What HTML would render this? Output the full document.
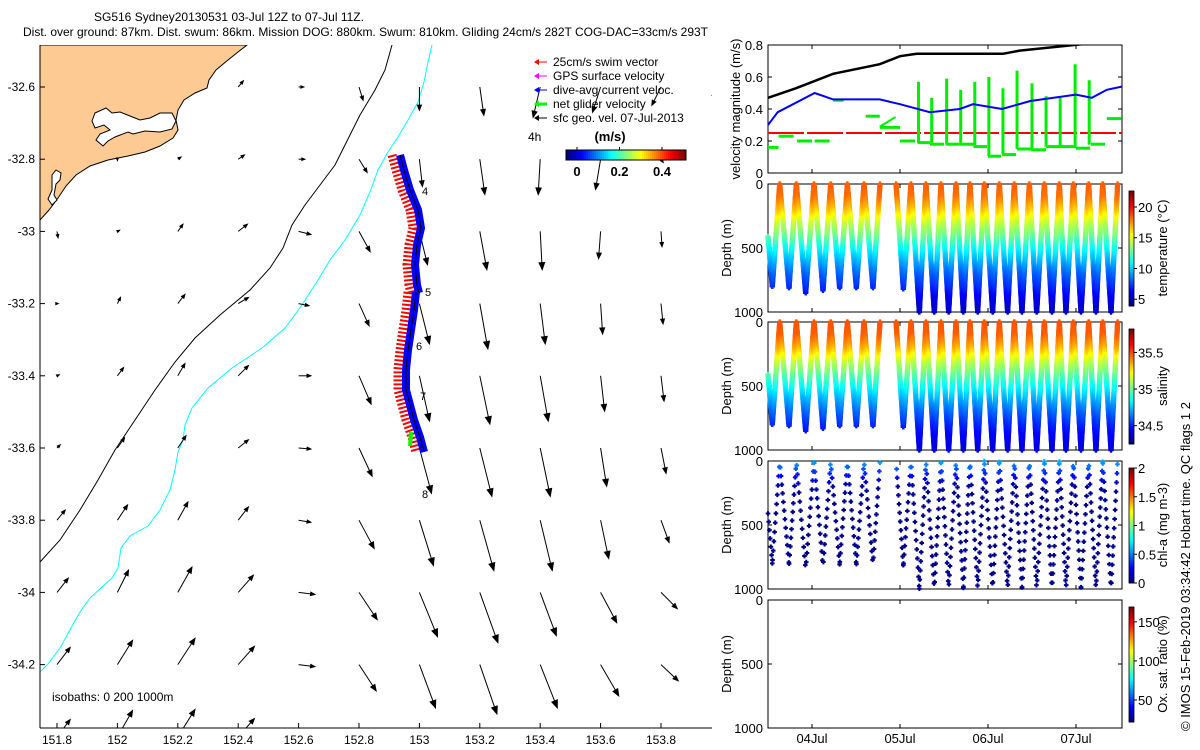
<!DOCTYPE html>
<html><head><meta charset="utf-8"><style>
html,body{margin:0;padding:0;background:#fff;}
svg{display:block;font-family:"Liberation Sans",Arial,sans-serif;}
</style></head><body>
<svg id="fig" width="1200" height="750" viewBox="0 0 1200 750" xmlns="http://www.w3.org/2000/svg">
<defs>
<clipPath id="mapclip"><rect x="40" y="45" width="672" height="683"/></clipPath>
<clipPath id="velclip"><rect x="768" y="45" width="354" height="128"/></clipPath>
</defs>
<g font-size="12" fill="#000">
<text x="94" y="21">SG516 Sydney20130531 03-Jul 12Z to 07-Jul 11Z.</text>
<text x="23" y="36">Dist. over ground: 87km. Dist. swum: 86km. Mission DOG: 880km. Swum: 810km. Gliding 24cm/s 282T COG-DAC=33cm/s 293T</text>
</g>
<g id="map"></g>
<g id="right"></g>
<text font-size="13" transform="translate(1190,731) rotate(-90)">© IMOS 15-Feb-2019 03:34:42 Hobart time. QC flags 1  2</text>
</svg>
<script>
// ---------- MAP DATA ----------
const lonTicks=[151.8,152,152.2,152.4,152.6,152.8,153,153.2,153.4,153.6,153.8];
const latTicks=[-32.6,-32.8,-33,-33.2,-33.4,-33.6,-33.8,-34,-34.2];
const gridLons=[151.8,152,152.2,152.4,152.6,152.8,153,153.2,153.4,153.6,153.8,154];
const gridLats=[-32.6,-32.8,-33,-33.2,-33.4,-33.6,-33.8,-34,-34.2,-34.4];
// surface geostrophic velocity (cm/s), east and north components; null = land
const geoU=[
[null,null,null,5,5,4,0,4,-7,-8,-9,-9],
[null,0,3,6,6,8,3,5,-2,-5,2,-6],
[1,2,5,9,12,11,8,7,2,-2,1,-4],
[1,3,7,10,10,10,10,8,5,2,2,-2],
[2,6,7,10,12,12,10,10,8,4,3,0],
[3,7,8,10,12,13,12,12,10,6,5,2],
[8,10,10,10,12,15,14,14,12,8,8,6],
[11,11,14,15,16,18,18,18,16,16,16,14],
[13,15,17,16,16,17,16,17,17,18,17,15],
[13,15,17,16,16,17,16,17,17,18,17,15]];
const geoV=[
[null,null,null,6,0,-13,-23,-28,-30,-25,-18,-8],
[null,-1,2,4,0,-13,-27,-35,-35,-30,-3,-5],
[-6,1,7,7,-3,-20,-33,-38,-38,-27,-15,-8],
[0,6,9,6,-2,-22,-40,-45,-40,-30,-20,-10],
[1,8,12,10,0,-28,-45,-48,-45,-35,-25,-12],
[3,10,12,8,-1,-28,-45,-48,-48,-38,-25,-12],
[10,15,18,13,-2,-28,-45,-50,-50,-38,-22,-12],
[14,22,25,17,-2,-27,-44,-50,-43,-30,-16,-10],
[17,24,26,18,-2,-26,-43,-49,-43,-31,-16,-10],
[17,26,27,18,-2,-26,-43,-49,-43,-31,-16,-10]];
const cbTicks=[0,0.2,0.4];

const NS="http://www.w3.org/2000/svg";
function el(tag,attrs,parent){const e=document.createElementNS(NS,tag);for(const k in attrs)e.setAttribute(k,attrs[k]);if(parent)parent.appendChild(e);return e;}
function jet(t){t=Math.max(0,Math.min(1,t));const c=v=>Math.round(255*Math.max(0,Math.min(1,v)));
return `rgb(${c(1.5-Math.abs(4*t-3))},${c(1.5-Math.abs(4*t-2))},${c(1.5-Math.abs(4*t-1))})`;}

const mx=lon=>57+(lon-151.8)*302;
const my=lat=>87+(-32.6-lat)*361;
const map=document.getElementById('map');
const mc=el('g',{'clip-path':'url(#mapclip)'},map);



const land=el('path',{d:'M40,45 L247,45 L238,52 L228,60 L216,70 L209,80 L207,88 L195,93 L184,100 L178,110 L176,120 L178,130 L173,138 L160,146 L145,152 L128,156 L108,160 L90,166 L76,175 L66,186 L58,198 L49,210 L40,220 Z',fill:'#fdca93',stroke:'#000','stroke-width':1},mc);


const est=el('path',{d:'M95,113 L106,108 L112,113 L120,112 L130,116 L140,120 L150,118 L160,113 L172,113 L176,121 L172,129 L160,132 L145,131 L133,134 L128,132 L115,137 L108,141 L103,146 L96,140 L100,134 L110,130 L104,125 L95,128 L92,121 Z',fill:'#fff',stroke:'#000','stroke-width':1},mc);


const lake=el('path',{d:'M52,175 L56,170 L61,173 L60,180 L56,184 L54,195 L57,200 L52,205 L48,199 L52,190 Z',fill:'#fff',stroke:'#000','stroke-width':1},mc);



const iso200=el('polyline',{points:'392,45 385,70 375,90 360,115 345,145 335,165 320,185 305,205 292,225 283,248 270,268 250,290 220,315 195,338 175,362 155,390 135,420 115,450 98,480 80,510 60,540 40,562',fill:'none',stroke:'#000','stroke-width':1},mc);


const iso1000=el('polyline',{points:'432,45 428,62 424,82 418,102 408,120 398,137 388,152 378,170 370,192 360,215 345,240 330,260 318,280 302,305 285,328 262,348 232,368 208,388 192,408 185,425 183,440 178,452 175,470 170,490 160,510 148,526 130,536 121,548 118,568 112,578 90,598 80,612 71,628 60,648 48,664 40,672',fill:'none',stroke:'#00ffff','stroke-width':1},mc);



gridLats.forEach((lat,i)=>{gridLons.forEach((lon,j)=>{
 const u=geoU[i][j],v=geoV[i][j]; if(u===null)return;
 const x0=mx(lon),y0=my(lat),x1=x0+u,y1=y0-v;
 const L=Math.hypot(u,v)||1,ux=u/L,uy=-v/L,h=Math.min(7,2+L*0.12);
 const g=el('g',{},mc);
 
 
 el('line',{x1:x0,y1:y0,x2:x1,y2:y1,stroke:'#000','stroke-width':1},g);
 el('path',{d:`M${x1},${y1} L${x1-ux*h-uy*h*0.4},${y1-uy*h+ux*h*0.4} L${x1-ux*h+uy*h*0.4},${y1-uy*h-ux*h*0.4} Z`,fill:'#000',stroke:'#000','stroke-width':1.2},g);
});});

const trk1='400,155 404,170 410,190 418,210 421,228 417,245 415,265 417,285 419,293';
const trk2='416,292 414,310 411,330 408,350 406,370 406,390 410,405 414,420 420,437 424,452';
[trk1,trk2].forEach((p)=>{
 const sh=p.split(' ').map(s=>{const a=s.split(',');return (a[0]-8)+','+a[1];}).join(' ');
 const r=el('polyline',{points:sh,fill:'none',stroke:'#ff0000','stroke-width':9,'stroke-dasharray':'2 2'},mc);
 
 
 const b=el('polyline',{points:p,fill:'none',stroke:'#0000ff','stroke-width':8},mc);
 
 
 const t=el('polyline',{points:p,fill:'none',stroke:'#000','stroke-width':1},mc);
 
 
});
const gv=el('line',{x1:411,y1:432,x2:410,y2:446,stroke:'#00ff00','stroke-width':4},mc);


[['4',422,195],['5',425,296],['6',416,350],['7',420,400],['8',422,498]].forEach(d=>{
 const t=el('text',{x:d[1],y:d[2],'font-size':11},mc);t.textContent=d[0];
 
 
});

const ax=el('g',{stroke:'#000','stroke-width':1},map);


el('line',{x1:40,y1:45,x2:40,y2:728},ax);
el('line',{x1:40,y1:728,x2:712,y2:728},ax);
lonTicks.forEach(l=>{const x=mx(l);el('line',{x1:x,y1:728,x2:x,y2:723},ax);
 const t=el('text',{x:x,y:744,'font-size':12,'text-anchor':'middle',stroke:'none'},map);t.textContent=String(l);
 
 });
latTicks.forEach(l=>{const y=my(l);el('line',{x1:40,y1:y,x2:45,y2:y},ax);
 const t=el('text',{x:35,y:y+4,'font-size':12,'text-anchor':'end'},map);t.textContent=String(l);
 
 });
const isot=el('text',{x:52,y:701,'font-size':12},map);isot.textContent='isobaths: 0   200  1000m';


isot.setAttribute('xml:space','preserve');

const leg=el('g',{},map);


[['25cm/s swim vector','#ff0000'],['GPS surface velocity','#ff00ff'],['dive-avg current veloc.','#0000ff'],['net glider velocity','#00ff00'],['sfc geo. vel. 07-Jul-2013','#000']].forEach((d,i)=>{
 const y=66+i*14;
 const e=el('g',{},leg);
 
 
 el('line',{x1:535,y1:y-4,x2:547,y2:y-4,stroke:d[1],'stroke-width':i==3?3:1},e);
 el('path',{d:`M534,${y-4} L539,${y-7} L539,${y-1} Z`,fill:d[1]},e);
 const t=el('text',{x:553,y:y,'font-size':12},e);t.textContent=d[0];
});
const t4=el('text',{x:528,y:141,'font-size':12},leg);t4.textContent='4h';


const mu=el('text',{x:610,y:141,'font-size':13,'font-weight':'bold','text-anchor':'middle'},leg);mu.textContent='(m/s)';


const cbx=v=>577+v/0.2*42.5;
const cbg=el('g',{},leg);


for(let i=0;i<60;i++){el('rect',{x:566+i*2,y:150,width:2.2,height:10,fill:jet(i/59)},cbg);}
el('rect',{x:566,y:150,width:120,height:10,fill:'none',stroke:'#000'},cbg);
cbTicks.forEach(v=>{el('line',{x1:cbx(v),y1:150,x2:cbx(v),y2:147,stroke:'#000'},cbg);
 const t=el('text',{x:cbx(v),y:176,'font-size':13,'font-weight':'bold','text-anchor':'middle'},cbg);t.textContent=String(v);});
</script>
<script>
// ---------- TIME SERIES DATA ----------
const dateTicks=[4,5,6,7];
const dateLabels=['04Jul','05Jul','06Jul','07Jul'];
const velTicks=[0,0.2,0.4,0.6,0.8];
const dogT=[3.5,3.82,4.24,4.77,5.0,5.19,6.17,6.36,6.98,7.5];
const dogV=[0.47,0.53,0.62,0.68,0.73,0.745,0.745,0.765,0.8,0.83];
const dacT=[3.5,3.61,4.03,4.24,4.77,5.0,5.34,5.68,5.83,6.16,6.48,7.0,7.18,7.35,7.52];
const dacV=[0.30,0.38,0.50,0.46,0.46,0.43,0.38,0.40,0.43,0.40,0.45,0.49,0.47,0.52,0.54];
const swimV=0.25;
const netT0=[3.5,3.62,3.83,4.03,4.24,4.61,4.77,5.0,5.2,5.34,5.52,5.68,5.84,6.0,6.16,6.33,6.49,6.66,6.83,7.0,7.17,7.35];
const netT1=[3.62,3.79,4.0,4.2,4.36,4.77,5.0,5.17,5.34,5.5,5.68,5.84,5.99,6.15,6.32,6.5,6.66,6.83,6.98,7.16,7.33,7.52];
const netV=[0.16,0.23,0.20,0.20,0.455,0.355,0.285,0.20,0.19,0.18,0.18,0.18,0.165,0.105,0.115,0.15,0.145,0.165,0.165,0.155,0.18,0.34];
const spikeT=[5.21,5.36,5.53,5.69,5.85,6.01,6.17,6.33,6.5,6.66,6.82,6.99,7.15];
const spikeV=[0.57,0.47,0.59,0.52,0.57,0.60,0.53,0.64,0.56,0.48,0.47,0.68,0.58];
const diveT=[3.5,3.549,3.633,3.739,3.822,3.928,4.023,4.125,4.212,4.314,4.402,4.504,4.591,4.693,4.773,null,4.955,5.038,5.125,5.22,5.295,5.39,5.466,5.553,5.636,5.72,5.795,5.883,5.958,6.053,6.129,6.223,6.299,6.386,6.47,6.553,6.64,6.727,6.811,6.886,6.97,7.057,7.144,7.227,7.303,7.398,7.473];
const diveZ=[410,800,0,810,0,850,0,830,0,810,0,810,0,810,0,null,0,820,0,1000,0,1000,0,1000,0,1000,0,1000,0,1000,0,1000,0,1000,0,1000,0,1000,0,1000,0,1000,0,1000,0,1000,0];
const profZ=[0,100,200,300,400,500,600,700,800,900,1000];
const profTemp=[18.6,18.2,16.6,14.5,13,11,9.5,8,7,5.8,5];
const profSal=[35.5,35.48,35.35,35.15,35.0,34.85,34.72,34.6,34.5,34.43,34.38];
const profChl=[0.6,0.3,0.05,0.03,0.02,0.02,0.02,0.02,0.02,0.02,0.02];

const NS2="http://www.w3.org/2000/svg";
function E(tag,attrs,parent){const e=document.createElementNS(NS2,tag);for(const k in attrs)e.setAttribute(k,attrs[k]);if(parent)parent.appendChild(e);return e;}
function jet2(t){t=Math.max(0,Math.min(1,t));const c=v=>Math.round(255*Math.max(0,Math.min(1,v)));
return `rgb(${c(1.5-Math.abs(4*t-3))},${c(1.5-Math.abs(4*t-2))},${c(1.5-Math.abs(4*t-1))})`;}
function interp(xs,ys,x){for(let i=0;i<xs.length-1;i++){if(x<=xs[i+1]){const f=(x-xs[i])/(xs[i+1]-xs[i]);return ys[i]+f*(ys[i+1]-ys[i]);}}return ys[ys.length-1];}
const R=document.getElementById('right');
const X0=768,X1=1122;
const xt=t=>X0+(t-3.5)*88;
const vy=v=>173-v/0.8*128;
function box(top,name){const b=E('rect',{x:X0,y:top,width:X1-X0,height:128,fill:'none',stroke:'#000'},R);
 
 
 dateTicks.forEach(d=>{E('line',{x1:xt(d),y1:top+128,x2:xt(d),y2:top+124,stroke:'#000'},R);E('line',{x1:xt(d),y1:top,x2:xt(d),y2:top+4,stroke:'#000'},R);});}
function ylab(txt,x,y,name){const t=E('text',{'font-size':13,'text-anchor':'middle',transform:`translate(${x},${y}) rotate(-90)`},R);t.textContent=txt;
 
 }
function ytick(v,y,name){E('line',{x1:X0,y1:y,x2:X0+4,y2:y,stroke:'#000'},R);E('line',{x1:X1,y1:y,x2:X1-4,y2:y,stroke:'#000'},R);
 const t=E('text',{x:763,y:y+5,'font-size':13,'text-anchor':'end'},R);t.textContent=String(v);
 
 }

box(45,'velocity-axes');
velTicks.forEach(v=>ytick(v,vy(v),'velocity-tick-label'));
ylab('velocity magnitude (m/s)',740,109,'velocity-y-title');
const vc=E('g',{'clip-path':'url(#velclip)'},R);
const sw=E('line',{x1:X0,y1:vy(swimV),x2:X1,y2:vy(swimV),stroke:'#ff0000','stroke-width':2,'stroke-dasharray':'36 3'},vc);


for(let i=0;i<netV.length;i++){
 const s=E('line',{x1:xt(netT0[i]),y1:vy(netV[i]),x2:xt(netT1[i]),y2:vy(netV[i]),stroke:'#00ee00','stroke-width':3},vc);
 
 }
const ramp=E('line',{x1:xt(4.77),y1:vy(0.29),x2:xt(4.95),y2:vy(0.35),stroke:'#00ee00','stroke-width':2},vc);


spikeT.forEach((t,i)=>{const base=interp(netT0,netV,t);
 const s=E('line',{x1:xt(t),y1:vy(Math.min(base,0.2)),x2:xt(t),y2:vy(spikeV[i]),stroke:'#00ee00','stroke-width':3},vc);
 
 });
const dl=E('polyline',{points:dogT.map((t,i)=>xt(t)+','+vy(dogV[i])).join(' '),fill:'none',stroke:'#000','stroke-width':2.5},vc);


const bl=E('polyline',{points:dacT.map((t,i)=>xt(t)+','+vy(dacV[i])).join(' '),fill:'none',stroke:'#0000ff','stroke-width':2},vc);



const panels=[
 {top:184,name:'temperature',prof:profTemp,vmin:3.9,vmax:22.6,ticks:[5,10,15,20],lab:'temperature (°C)',step:8,sz:2.6,sw:2.2,jit:0},
 {top:322,name:'salinity',prof:profSal,vmin:34.25,vmax:35.82,ticks:[34.5,35,35.5],lab:'salinity',step:8,sz:2.6,sw:2.2,jit:0},
 {top:461,name:'chlorophyll',prof:profChl,vmin:0,vmax:2,ticks:[0,0.5,1,1.5,2],lab:'chl-a (mg m-3)',step:70,sz:2.3,sw:2,jit:1},
 {top:600,name:'oxygen',prof:null,vmin:21.8,vmax:169,ticks:[50,100,150],lab:'Ox. sat. ratio (%)',step:0}];
panels.forEach(p=>{
 box(p.top,p.name+'-axes');
 [0,500,1000].forEach(z=>ytick(z,p.top+z/1000*128,'depth-tick-label'));
 ylab('Depth (m)',731,p.top+64,'depth-y-title');
 const zy=z=>p.top+z/1000*128;
 if(p.prof){
  const g=E('g',{},R);
  
  
  for(let i=0;i<diveT.length-1;i++){
   if(diveT[i]===null||diveT[i+1]===null)continue;
   const t0=diveT[i],t1=diveT[i+1],z0=diveZ[i],z1=diveZ[i+1];
   const n=Math.max(1,Math.round(Math.abs(z1-z0)/p.step));
   const off=p.jit?((i*0.37)%1):0;
   for(let k=0;k<=n;k++){let f=(k+off)/n; if(f>1)continue; const t=t0+f*(t1-t0),z=z0+f*(z1-z0);
    const val=interp(profZ,p.prof,z);
    const c=jet2((val-p.vmin)/(p.vmax-p.vmin));
    const x=xt(t),y=zy(z),s=p.sz;
    E('path',{d:`M${x-s},${y}h${2*s}M${x},${y-s}v${2*s}`,stroke:c,'stroke-width':p.sw},g);}
  }
 }
 const ct=p.top+7,cb=p.top+122;
 const cg=E('g',{},R);
 
 
 for(let i=0;i<50;i++){E('rect',{x:1129,y:cb-(i+1)*(cb-ct)/50,width:5,height:(cb-ct)/50+0.4,fill:jet2(i/49)},cg);}
 E('rect',{x:1129,y:ct,width:5,height:cb-ct,fill:'none',stroke:'#000','stroke-width':0.8},cg);
 p.ticks.forEach(v=>{const y=cb-(v-p.vmin)/(p.vmax-p.vmin)*(cb-ct);
  E('line',{x1:1134,y1:y,x2:1137,y2:y,stroke:'#000'},cg);
  const t=E('text',{x:1138,y:y+5,'font-size':13},cg);t.textContent=String(v);});
 ylab(p.lab,1167,p.top+64,p.name+'-colorbar-title');
});
dateTicks.forEach((d,i)=>{const t=E('text',{x:xt(d),y:743,'font-size':13,'text-anchor':'middle'},R);t.textContent=dateLabels[i];
 
 });
</script>
</body></html>
